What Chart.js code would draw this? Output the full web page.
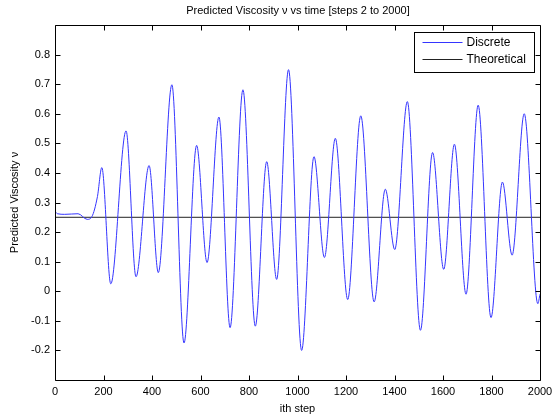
<!DOCTYPE html>
<html>
<head>
<meta charset="utf-8">
<title>Predicted Viscosity</title>
<script src="https://cdn.jsdelivr.net/npm/chart.js@4.4.1/dist/chart.umd.min.js"></script>
<style>
  html, body { margin: 0; padding: 0; background: #fff; }
  #wrap { width: 553px; height: 419px; }
</style>
</head>
<body>
<div id="wrap"><canvas id="viscChart" width="553" height="419"></canvas></div>
<script>
// — Data (turning points of the discrete run) —
const steps = [0, 10, 40, 95, 133, 152, 175,
  193, 230, 293, 334, 388, 426, 482, 532, 584, 627,
  676, 722, 775, 826, 873, 914, 963, 1017, 1068, 1111,
  1156, 1207, 1261, 1316, 1362, 1401, 1453, 1507, 1557, 1603,
  1647, 1695, 1745, 1798, 1845, 1885, 1935, 1991, 2000];
const discrete = [0.27, 0.262, 0.26, 0.262, 0.243, 0.252, 0.32,
  0.418, 0.025, 0.542, 0.049, 0.425, 0.063, 0.698, -0.175, 0.493, 0.097,
  0.589, -0.123, 0.681, -0.118, 0.438, 0.04, 0.749, -0.2, 0.455, 0.114,
  0.517, -0.028, 0.593, -0.036, 0.345, 0.141, 0.641, -0.132, 0.469, 0.074,
  0.497, -0.01, 0.629, -0.089, 0.369, 0.122, 0.6, -0.042, -0.01];
const theoretical = 0.25;

const xTicks = [0, 200, 400, 600, 800, 1000, 1200, 1400, 1600, 1800, 2000];
const yTicks = [-0.2, -0.1, 0, 0.1, 0.2, 0.3, 0.4, 0.5, 0.6, 0.7, 0.8];

const chartTitle = 'Predicted Viscosity ν vs time [steps 2 to 2000]';
const FONT = "'Liberation Sans', Arial, Helvetica, sans-serif";

// — Box, inward ticks, title and legend, MATLAB style —
const matlabFrame = {
  id: 'matlabFrame',
  afterDatasetsDraw(chart) {
    const { ctx, chartArea: a, scales: { x, y } } = chart;
    const L = Math.round(a.left) + 0.5, R = Math.round(a.right) + 0.5;
    const T = Math.round(a.top) + 0.5, B = Math.round(a.bottom) + 0.5;
    ctx.save();
    ctx.strokeStyle = '#000';
    ctx.lineWidth = 1;
    ctx.beginPath();
    ctx.rect(L, T, R - L, B - T);
    xTicks.forEach(v => {
      const px = Math.round(x.getPixelForValue(v)) + 0.5;
      ctx.moveTo(px, B); ctx.lineTo(px, B - 5);
      ctx.moveTo(px, T); ctx.lineTo(px, T + 5);
    });
    yTicks.forEach(v => {
      const py = Math.round(y.getPixelForValue(v)) + 0.5;
      ctx.moveTo(L, py); ctx.lineTo(L + 5, py);
      ctx.moveTo(R, py); ctx.lineTo(R - 5, py);
    });
    ctx.stroke();

    // title, centred over the axes box
    ctx.fillStyle = '#000';
    ctx.font = '11px ' + FONT;
    ctx.textAlign = 'center';
    ctx.textBaseline = 'middle';
    ctx.fillText(chartTitle, (L + R) / 2, 11);

    // legend box
    const bx = R - 126, by = T + 7, bw = 120, bh = 40;
    ctx.fillStyle = '#fff';
    ctx.fillRect(bx, by, bw, bh);
    ctx.strokeStyle = '#000';
    ctx.strokeRect(bx, by, bw, bh);
    ctx.font = '12px ' + FONT;
    ctx.textAlign = 'left';
    chart.data.datasets.forEach((ds, i) => {
      const ly = Math.round(by + 9 + i * 17.5) + 0.5;
      ctx.strokeStyle = ds.borderColor;
      ctx.beginPath();
      ctx.moveTo(bx + 8, ly); ctx.lineTo(bx + 48, ly);
      ctx.stroke();
      ctx.fillStyle = '#000';
      ctx.fillText(ds.label, bx + 52, ly);
    });
    ctx.restore();
  }
};

new Chart(document.getElementById('viscChart'), {
  type: 'line',
  data: {
    datasets: [
      {
        label: 'Discrete',
        data: steps.map((s, i) => ({ x: s, y: discrete[i] })),
        borderColor: '#3535ff',
        borderWidth: 1,
        pointRadius: 0,
        cubicInterpolationMode: 'monotone'
      },
      {
        label: 'Theoretical',
        data: [{ x: xTicks[0], y: theoretical }, { x: xTicks[xTicks.length - 1], y: theoretical }],
        borderColor: '#222222',
        borderWidth: 1,
        pointRadius: 0
      }
    ]
  },
  options: {
    responsive: false,
    animation: false,
    layout: { padding: { top: 25, right: 13 } },
    plugins: {
      legend: { display: false },
      tooltip: { enabled: false },
      title: { display: false }
    },
    scales: {
      x: {
        type: 'linear',
        min: 0, max: 2000,
        grid: { display: false, drawTicks: false },
        border: { display: false },
        afterBuildTicks: s => { s.ticks = xTicks.map(v => ({ value: v })); },
        afterFit: s => { s.height = 39; s.paddingLeft = 0; s.paddingRight = 0; },
        ticks: {
          color: '#000', padding: 5, maxRotation: 0, font: { family: FONT, size: 11 },
          callback: v => String(v)
        },
        title: {
          display: true, text: 'ith step', color: '#000',
          font: { family: FONT, size: 11 }, padding: { top: 0, bottom: 3 }
        }
      },
      y: {
        min: -0.3, max: 0.9,
        grid: { display: false, drawTicks: false },
        border: { display: false },
        afterBuildTicks: s => { s.ticks = yTicks.map(v => ({ value: v })); },
        afterFit: s => { s.width = 55; s.paddingTop = 0; s.paddingBottom = 0; },
        ticks: {
          color: '#000', padding: 5, font: { family: FONT, size: 11 },
          callback: v => String(Math.round(v * 10) / 10)
        },
        title: {
          display: true, text: 'Predicted Viscosity ν', color: '#000',
          font: { family: FONT, size: 11 }, padding: { top: 8, bottom: 0 }
        }
      }
    }
  },
  plugins: [matlabFrame]
});
</script>
</body>
</html>
